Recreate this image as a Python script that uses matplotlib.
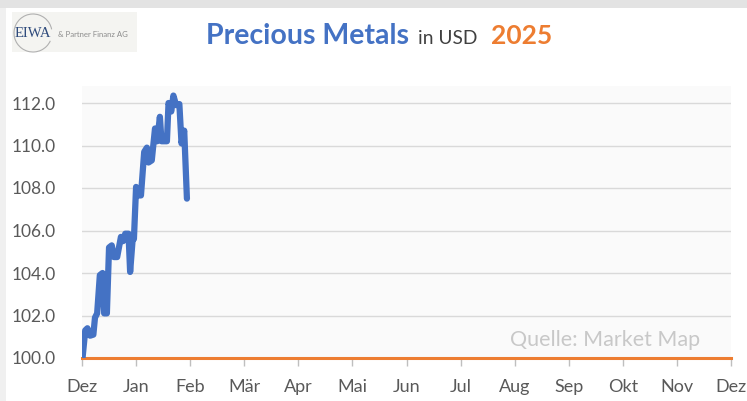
import numpy as np
import matplotlib.pyplot as plt
from matplotlib.patches import Rectangle, Arc

# month labels along the x axis (Dez 2024 .. Dez 2025)
months = ["Dez", "Jan", "Feb", "Mär", "Apr", "Mai", "Jun",
          "Jul", "Aug", "Sep", "Okt", "Nov", "Dez"]

# position in months since start of Dec, index value (start = 100)
pm_x = [0.01, 0.06, 0.10, 0.15, 0.21, 0.24, 0.28, 0.33, 0.38, 0.41, 0.46,
        0.50, 0.55, 0.59, 0.65, 0.72, 0.76, 0.80, 0.86, 0.89, 0.94, 0.96,
        1.00, 1.04, 1.09, 1.15, 1.20, 1.23, 1.29, 1.35, 1.39, 1.44, 1.47,
        1.57, 1.60, 1.65, 1.69, 1.74, 1.80, 1.84, 1.89, 1.94]
pm_y = [100.0, 101.3, 101.4, 101.05, 101.1, 101.9, 102.1, 103.9, 104.0, 102.1, 102.1,
        105.2, 105.3, 104.75, 104.75, 105.7, 105.5, 105.85, 105.85, 104.05, 105.7, 105.6,
        108.05, 107.65, 107.65, 109.7, 109.9, 109.2, 109.3, 110.8, 110.2, 111.35, 110.2,
        110.2, 112.0, 111.6, 112.35, 111.9, 111.95, 110.1, 110.7, 107.5]

base_value = 100.0
yticks = [100, 102, 104, 106, 108, 110, 112]

BLUE = "#4472C4"
ORANGE = "#ED7D31"
GREY = "#595959"

plt.rcParams['font.family'] = ['Lato', 'DejaVu Sans']

fig = plt.figure(figsize=(7.47, 4.01), dpi=100)
fig.patch.set_facecolor("white")

# grey frame strips (screenshot border)
fig.add_artist(Rectangle((0, 1 - 8 / 401), 1, 8 / 401, transform=fig.transFigure,
                         facecolor="#E3E3E3", edgecolor="none"))
fig.add_artist(Rectangle((0, 0), 6 / 747, 1 - 8 / 401, transform=fig.transFigure,
                         facecolor="#F0F0F0", edgecolor="none"))

ax = fig.add_axes([82 / 747, 1 - 358 / 401, 649 / 747, 272 / 401])
ax.set_facecolor("#FAFAFA")

n = len(months) - 1
ax.plot([0, n], [base_value, base_value], color=ORANGE, lw=2.2, clip_on=False, zorder=3)
ax.plot(pm_x, pm_y, color=BLUE, lw=4.5, solid_joinstyle="round",
        solid_capstyle="round", zorder=4)

ax.set_xlim(0, n)
ax.set_ylim(100, 112.8)
ax.set_yticks(yticks)
ax.set_yticklabels([f"{v:.1f}" for v in yticks])
ax.set_xticks(range(len(months)))
ax.set_xticklabels(months)
ax.grid(axis="y", color="#D9D9D9", lw=1)
ax.set_axisbelow(True)
for s in ax.spines.values():
    s.set_visible(False)
ax.tick_params(axis="y", length=0, pad=19, labelsize=12.5, labelcolor=GREY)
ax.tick_params(axis="x", length=6, width=1, color="#BFBFBF", pad=9,
               labelsize=13, labelcolor=GREY)

ax.text(0.952, 0.03, "Quelle: Market Map", transform=ax.transAxes, ha="right",
        va="bottom", fontsize=15.5, color="#C8C8C8")

# title in three pieces, chained left to right
fig.canvas.draw()
r = fig.canvas.get_renderer()
y_title = 1 - 44 / 401
t1 = fig.text(206 / 747, y_title, "Precious Metals", fontsize=20.5, fontweight="bold",
              color=BLUE, va="baseline")
x = t1.get_window_extent(r).x1 + 9
t2 = fig.text(x / 747, y_title, "in USD", fontsize=13.8, color="#404040", va="baseline")
x = t2.get_window_extent(r).x1 + 14
fig.text(x / 747, y_title, "2025", fontsize=19, fontweight="bold", color=ORANGE,
         va="baseline")

# logo
fig.add_artist(Rectangle((12 / 747, 1 - 52 / 401), 125 / 747, 40 / 401,
                         transform=fig.transFigure, facecolor="#F4F4F1", edgecolor="none"))
fig.text(15 / 747, 1 - 37 / 401, "EIWA", fontsize=10.5, family="Liberation Serif",
         color="#2F4B7C", va="baseline")
fig.text(58 / 747, 1 - 37 / 401, "& Partner Finanz AG", fontsize=5.6, color="#8C8C8C",
         va="baseline")
fig.add_artist(Arc((33 / 747, 1 - 33 / 401), 38 / 747, 38 / 401, theta1=20, theta2=320,
                   transform=fig.transFigure, color="#B0B0B0", lw=0.8))

fig.savefig("out.png", dpi=100)
